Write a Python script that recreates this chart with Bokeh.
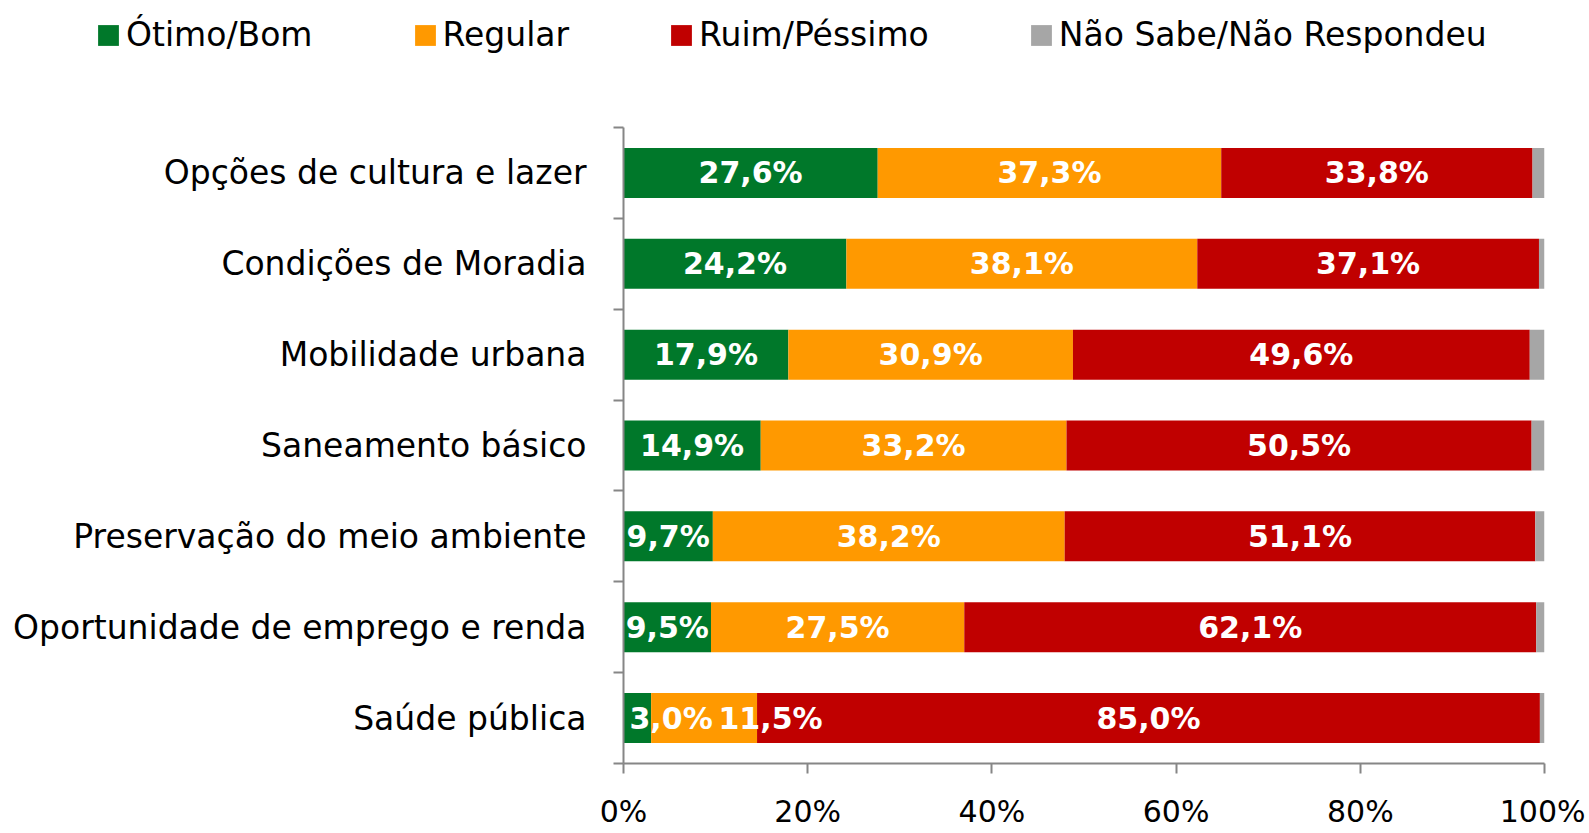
from bokeh.plotting import figure
from bokeh.models import ColumnDataSource, FixedTicker, Legend, LegendItem, Range1d
from bokeh.core.properties import value
from bokeh.embed import file_html
from bokeh.resources import INLINE

categories = ["Opções de cultura e lazer", "Condições de Moradia", "Mobilidade urbana",
              "Saneamento básico", "Preservação do meio ambiente",
              "Oportunidade de emprego e renda", "Saúde pública"]
otimo_bom = [27.6, 24.2, 17.9, 14.9, 9.7, 9.5, 3.0]
regular = [37.3, 38.1, 30.9, 33.2, 38.2, 27.5, 11.5]
ruim_pessimo = [33.8, 37.1, 49.6, 50.5, 51.1, 62.1, 85.0]
nao_sabe = [1.3, 0.6, 1.6, 1.4, 1.0, 0.9, 0.5]
series_names = ["Ótimo/Bom", "Regular", "Ruim/Péssimo", "Não Sabe/Não Respondeu"]
colors = ["#00782A", "#FF9900", "#C00000", "#A6A6A6"]
x_ticks = [0, 20, 40, 60, 80, 100]

FONT = "DejaVu Sans"
AXIS = "#868686"
n = len(categories)
ypos = [n - 1 - i for i in range(n)]

W = 1585
LEG_H = 80
H = 831 - LEG_H

# ---------- legend strip ----------
pl = figure(width=W, height=LEG_H, output_backend="svg", toolbar_location=None,
            x_range=Range1d(0, 1), y_range=Range1d(0, 1),
            min_border_left=0, min_border_right=0, min_border_top=0, min_border_bottom=0)
pl.axis.visible = False
pl.grid.grid_line_color = None
pl.outline_line_color = None
dummy = []
for c in colors:
    # placeholder glyphs outside the visible range, only used for legend swatches
    dummy.append(pl.hbar(y=[10], left=[10], right=[11], height=1, fill_color=c, line_color=None))
legend = Legend(items=[LegendItem(label=series_names[i], renderers=[dummy[i]]) for i in range(4)],
                orientation="horizontal", location=(95, 26),
                label_text_font=FONT, label_text_font_size="33px", label_text_color="black",
                glyph_width=26, glyph_height=26, label_standoff=5, spacing=99,
                padding=0, margin=0, border_line_color=None, background_fill_alpha=0)
pl.add_layout(legend)

# ---------- main chart ----------
p = figure(width=W, height=H, output_backend="svg", toolbar_location=None,
           x_range=Range1d(0, 100), y_range=Range1d(-0.5, n - 0.5),
           min_border_left=623, min_border_right=W - 1544,
           min_border_top=127 - LEG_H, min_border_bottom=831 - 772)
p.outline_line_color = None
p.grid.grid_line_color = None

series = [otimo_bom, regular, ruim_pessimo, nao_sabe]
lefts = [0.0] * n
label_x, label_y, label_t, label_align, label_off = [], [], [], [], []
for si, vals in enumerate(series):
    rights = [l + v for l, v in zip(lefts, vals)]
    src = ColumnDataSource(dict(y=ypos, left=lefts, right=rights))
    p.hbar(y="y", left="left", right="right", height=0.55, source=src,
           fill_color=colors[si], line_color=None)
    if si < 3:
        for i in range(n):
            label_y.append(ypos[i])
            label_t.append(f"{vals[i]:.1f}%".replace(".", ","))
            if otimo_bom[i] < 5 and si < 2:
                # narrow segments: labels run on from the bar start
                label_x.append(0)
                label_align.append("left")
                label_off.append(6 if si == 0 else 95)
            else:
                label_x.append((lefts[i] + rights[i]) / 2)
                label_align.append("center")
                label_off.append(0)
    lefts = rights

lsrc = ColumnDataSource(dict(x=label_x, y=label_y, t=label_t, a=label_align, o=label_off))
p.text(x="x", y="y", text="t", source=lsrc, text_align="a", x_offset="o",
       text_baseline="middle", text_color="white", text_font=value(FONT),
       text_font_size="30px", text_font_style="bold")

ax = p.xaxis[0]
ax.ticker = FixedTicker(ticks=x_ticks)
ax.major_label_overrides = {t: f"{t}%" for t in x_ticks}
ax.major_label_text_font = FONT
ax.major_label_text_font_size = "30px"
ax.major_label_text_color = "black"
ax.major_label_standoff = 20
ax.axis_line_color = AXIS
ax.axis_line_width = 2
ax.major_tick_line_color = AXIS
ax.major_tick_line_width = 2
ax.major_tick_out = 10
ax.major_tick_in = 0
ax.minor_tick_line_color = None

ay = p.yaxis[0]
ay.ticker = FixedTicker(ticks=ypos, minor_ticks=[k - 0.5 for k in range(n + 1)])
ay.major_label_overrides = {ypos[i]: categories[i] for i in range(n)}
ay.major_label_text_font = FONT
ay.major_label_text_font_size = "33px"
ay.major_label_text_color = "black"
ay.major_label_standoff = 27
ay.axis_line_color = AXIS
ay.axis_line_width = 2
ay.major_tick_line_color = None
ay.major_tick_out = 0
ay.major_tick_in = 0
ay.minor_tick_line_color = AXIS
ay.minor_tick_line_width = 2
ay.minor_tick_out = 10
ay.minor_tick_in = 0

open("out.html", "w").write(file_html([pl, p], INLINE))
